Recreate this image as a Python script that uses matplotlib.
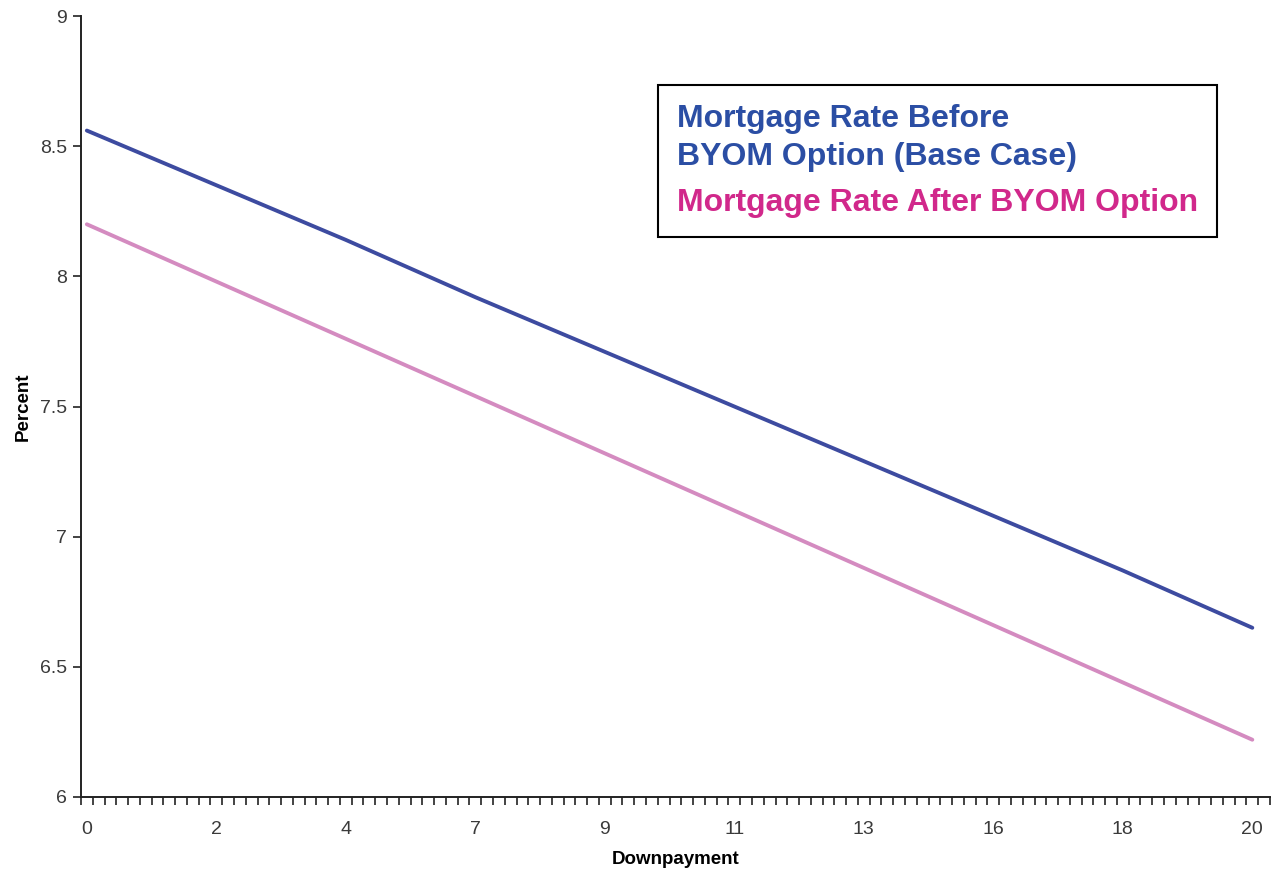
"""Mortgage rate vs. downpayment, before and after the BYOM option."""
import matplotlib.pyplot as plt
import numpy as np
from matplotlib.ticker import FixedLocator, NullFormatter

plt.rcParams['font.family'] = ['Liberation Sans', 'DejaVu Sans']

# Downpayment categories that carry a tick label, and the rate at each of them
downpayment = ['0', '2', '4', '7', '9', '11', '13', '16', '18', '20']
rate_before = [8.56, 8.35, 8.14, 7.92, 7.71, 7.50, 7.29, 7.08, 6.87, 6.65]
rate_after = [8.20, 7.98, 7.76, 7.54, 7.32, 7.10, 6.88, 6.66, 6.44, 6.22]

label_before = 'Mortgage Rate Before\nBYOM Option (Base Case)'
label_after = 'Mortgage Rate After BYOM Option'

N_CATEGORIES = 101   # category slots on the x axis
LABEL_EVERY = 11     # a label every 11th category

LINE_BLUE, TEXT_BLUE = '#3d4ba0', '#2b4ea4'
LINE_PINK, TEXT_PINK = '#d48bc0', '#d1288b'

fig = plt.figure(figsize=(12.77, 8.76), dpi=100)
ax = fig.add_axes([0.0634, 0.0902, 0.9311, 0.8915])

x = np.arange(len(downpayment)) * LABEL_EVERY
ax.plot(x, rate_before, color=LINE_BLUE, lw=2.8, solid_capstyle='round',
        label=label_before)
ax.plot(x, rate_after, color=LINE_PINK, lw=2.8, solid_capstyle='round',
        label=label_after)

ax.set_xlim(-0.5, N_CATEGORIES - 0.5)
ax.set_ylim(6, 9)

# category boundaries get the tick marks, labels sit on category centres
ax.xaxis.set_major_locator(FixedLocator(x))
ax.set_xticklabels(downpayment)
ax.xaxis.set_minor_locator(FixedLocator(np.arange(N_CATEGORIES + 1) - 0.5))
ax.xaxis.set_minor_formatter(NullFormatter())
ax.tick_params(axis='x', which='major', length=0, pad=17)
ax.tick_params(axis='x', which='minor', length=6, width=1.2, color='#222222')

ax.set_yticks(np.arange(6, 9.01, 0.5))
ax.set_yticklabels(['6', '6.5', '7', '7.5', '8', '8.5', '9'])
ax.tick_params(axis='y', length=6, width=1.2, color='#222222', pad=4)
ax.tick_params(labelsize=14, labelcolor='#3a3a3a')

for side in ('top', 'right'):
    ax.spines[side].set_visible(False)
for side in ('left', 'bottom'):
    ax.spines[side].set_linewidth(1.4)
    ax.spines[side].set_color('#222222')

ax.set_xlabel('Downpayment', fontsize=13.5, fontweight='bold', labelpad=10)
ax.set_ylabel('Percent', fontsize=13.5, fontweight='bold', labelpad=6)

leg = ax.legend(loc='upper left', bbox_to_anchor=(0.5153, 0.9030),
                bbox_transform=fig.transFigure, frameon=True, fancybox=False,
                edgecolor='black', framealpha=1, handlelength=0,
                handletextpad=0, borderpad=0.6, borderaxespad=0,
                labelspacing=0.5,
                prop={'size': 23, 'weight': 'bold'})
leg.get_frame().set_linewidth(1.5)
for handle in leg.legend_handles:
    handle.set_visible(False)
for text, col in zip(leg.get_texts(), (TEXT_BLUE, TEXT_PINK)):
    text.set_color(col)
    text.set_linespacing(1.35)

fig.savefig('out.png', dpi=100)
